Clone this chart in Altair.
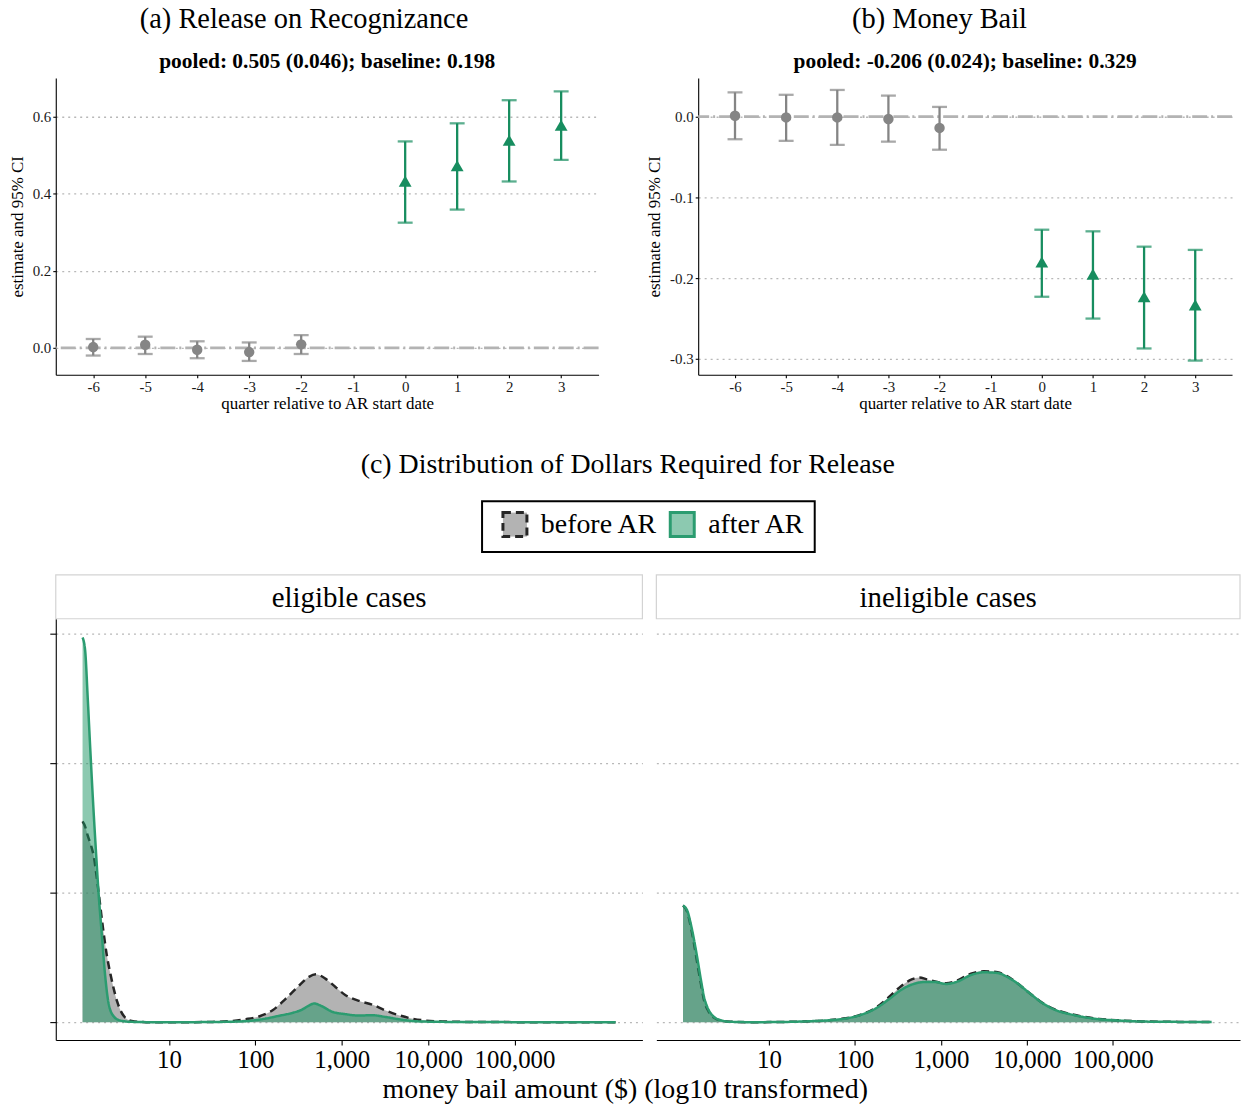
import altair as alt
import pandas as pd

FONT = "Liberation Serif"
GRAY = "#858585"
GREEN = "#178d5f"

# ---------------- event-study estimates ----------------
quarters = [-6, -5, -4, -3, -2, 0, 1, 2, 3]
phase = ["pre", "pre", "pre", "pre", "pre", "post", "post", "post", "post"]
quarter_ticks = [-6, -5, -4, -3, -2, -1, 0, 1, 2, 3]

ror_est = [0.002, 0.008, -0.005, -0.011, 0.009, 0.433, 0.473, 0.539, 0.578]
ror_lo = [-0.020, -0.016, -0.027, -0.034, -0.016, 0.325, 0.359, 0.432, 0.488]
ror_hi = [0.023, 0.029, 0.017, 0.014, 0.033, 0.536, 0.583, 0.643, 0.666]

bail_est = [0.001, -0.001, -0.001, -0.003, -0.014, -0.180, -0.195, -0.223, -0.233]
bail_lo = [-0.028, -0.030, -0.035, -0.031, -0.041, -0.223, -0.250, -0.287, -0.302]
bail_hi = [0.030, 0.027, 0.033, 0.026, 0.012, -0.140, -0.142, -0.161, -0.165]

# ---------------- densities of log10 money bail ----------------
elig_before_x = [0.0, 0.03, 0.06, 0.10, 0.13, 0.16, 0.19, 0.23, 0.28, 0.32, 0.36, 0.40, 0.44,
                 0.48, 0.52, 0.60, 0.80, 1.20, 1.50, 1.74, 1.89, 2.05, 2.20, 2.35, 2.51, 2.62,
                 2.70, 2.81, 2.93, 3.04, 3.20, 3.35, 3.50, 3.66, 3.81, 3.96, 4.20, 4.60, 5.50, 6.17]
elig_before_y = [1.55, 1.51, 1.44, 1.36, 1.28, 1.14, 0.98, 0.76, 0.52, 0.38, 0.26, 0.16, 0.09,
                 0.045, 0.02, 0.006, 0.0, 0.0, 0.002, 0.010, 0.023, 0.046, 0.092, 0.18, 0.285, 0.35,
                 0.37, 0.336, 0.27, 0.21, 0.164, 0.136, 0.092, 0.054, 0.028, 0.013, 0.005, 0.001, 0.0, 0.0]

elig_after_x = [0.0, 0.03, 0.06, 0.09, 0.12, 0.155, 0.185, 0.225, 0.26, 0.30, 0.36, 0.44, 0.55,
                0.80, 1.20, 1.60, 1.89, 2.12, 2.28, 2.43, 2.54, 2.62, 2.68, 2.77, 2.89, 3.04,
                3.20, 3.35, 3.50, 3.66, 3.81, 4.00, 4.50, 5.50, 6.17]
elig_after_y = [2.97, 2.87, 2.50, 2.10, 1.72, 1.32, 1.00, 0.66, 0.37, 0.15, 0.045, 0.012, 0.003,
                0.0, 0.0, 0.002, 0.008, 0.028, 0.050, 0.072, 0.097, 0.128, 0.144, 0.123, 0.080, 0.062,
                0.051, 0.054, 0.041, 0.023, 0.010, 0.004, 0.001, 0.0, 0.0]

inel_before_x = [0.0, 0.05, 0.09, 0.13, 0.17, 0.21, 0.245, 0.30, 0.36, 0.44, 0.55, 0.80, 1.20,
                 1.50, 1.70, 1.89, 2.08, 2.24, 2.39, 2.54, 2.66, 2.75, 2.84, 2.96, 3.06, 3.20,
                 3.35, 3.50, 3.66, 3.77, 3.89, 4.04, 4.19, 4.34, 4.50, 4.65, 4.84, 5.07, 5.34,
                 5.80, 6.15]
inel_before_y = [0.90, 0.85, 0.74, 0.60, 0.44, 0.29, 0.17, 0.08, 0.035, 0.012, 0.003, 0.0, 0.002,
                 0.008, 0.015, 0.030, 0.060, 0.110, 0.190, 0.280, 0.330, 0.345, 0.330, 0.310, 0.300,
                 0.325, 0.375, 0.393, 0.385, 0.355, 0.300, 0.220, 0.145, 0.095, 0.064, 0.043, 0.025,
                 0.014, 0.006, 0.002, 0.001]

inel_after_x = [0.0, 0.05, 0.09, 0.13, 0.17, 0.21, 0.245, 0.30, 0.36, 0.44, 0.55, 0.80, 1.20,
                1.50, 1.70, 1.89, 2.08, 2.24, 2.39, 2.54, 2.66, 2.81, 2.93, 3.06, 3.20, 3.35,
                3.50, 3.66, 3.77, 3.89, 4.04, 4.19, 4.34, 4.50, 4.65, 4.84, 5.07, 5.34, 5.80, 6.15]
inel_after_y = [0.90, 0.86, 0.76, 0.63, 0.48, 0.32, 0.195, 0.092, 0.041, 0.015, 0.003, 0.0, 0.002,
                0.008, 0.015, 0.028, 0.059, 0.105, 0.174, 0.250, 0.290, 0.310, 0.310, 0.295, 0.315,
                0.364, 0.385, 0.380, 0.350, 0.300, 0.220, 0.144, 0.092, 0.062, 0.041, 0.023, 0.013,
                0.005, 0.002, 0.001]

periods = ["before AR", "after AR"]
amount_ticks = [1, 2, 3, 4, 5]
density_grid = [0, 1, 2, 3]

# translucent fills of the two density curves, and the keys' look as seen on white
area_fill = {"before AR": "#676767", "after AR": "#199361"}
key_fill = ["#b3b3b3", "#8cc9b0"]
line_color = ["#262626", "#2b9c70"]
line_dash = [[8, 5], [1, 0]]


def event_panel(est, lo, hi, y_domain, y_ticks, width, title, subtitle):
    df = pd.DataFrame({"quarter": quarters, "est": est, "lo": lo, "hi": hi, "phase": phase})
    x = alt.X("quarter:Q",
              scale=alt.Scale(domain=[-6.72, 3.72], nice=False, zero=False),
              axis=alt.Axis(values=quarter_ticks, labelExpr="datum.value + ''",
                            title="quarter relative to AR start date", grid=False,
                            tickSize=3, labelPadding=2, titlePadding=1))
    y_axis = alt.Axis(values=y_ticks,
                      labelExpr="replace(format(datum.value, '.1f'), '\u2212', '-')",
                      title="estimate and 95% CI", grid=True, tickSize=3, labelPadding=2,
                      titlePadding=6, minExtent=0)
    y_scale = alt.Scale(domain=y_domain, nice=False, zero=False)
    color = alt.Color("phase:N", scale=alt.Scale(domain=["pre", "post"], range=[GRAY, GREEN]),
                      legend=None)
    base = alt.Chart(df)

    zero = alt.Chart(pd.DataFrame({"ref": [0.0]})).mark_rule(
        color="#b3b3b3", strokeWidth=2.6, strokeDash=[15, 4, 2, 4]
    ).encode(y=alt.Y("ref:Q", scale=y_scale, axis=y_axis))

    bars = base.mark_rule(strokeWidth=2.3).encode(
        x=x, y=alt.Y("lo:Q", scale=y_scale, axis=y_axis), y2="hi:Q", color=color)
    cap_lo = base.mark_tick(orient="horizontal", size=15, thickness=2.3).encode(
        x=x, y=alt.Y("lo:Q", scale=y_scale, axis=y_axis), color=color)
    cap_hi = base.mark_tick(orient="horizontal", size=15, thickness=2.3).encode(
        x=x, y=alt.Y("hi:Q", scale=y_scale, axis=y_axis), color=color)
    pts = base.mark_point(filled=True, opacity=1).encode(
        x=x, y=alt.Y("est:Q", scale=y_scale, axis=y_axis), color=color,
        shape=alt.Shape("phase:N",
                        scale=alt.Scale(domain=["pre", "post"], range=["circle", "triangle-up"]),
                        legend=None),
        size=alt.Size("phase:N", scale=alt.Scale(domain=["pre", "post"], range=[110, 165]),
                      legend=None))
    inner = alt.layer(zero, bars, cap_lo, cap_hi, pts).properties(
        width=width, height=298,
        title=alt.TitleParams(text=subtitle, fontSize=21.5, font=FONT, fontWeight="bold",
                              color="black", offset=5, anchor="middle"))
    # panel heading, centred over the whole panel including its axis
    return alt.vconcat(inner).properties(
        title=alt.TitleParams(text=title, fontSize=28.5, font=FONT, fontWeight="normal",
                              color="black", offset=18, anchor="middle"))


panel_a = event_panel(ror_est, ror_lo, ror_hi, [-0.0698, 0.7009], [0.0, 0.2, 0.4, 0.6], 545,
                      "(a) Release on Recognizance", "pooled: 0.505 (0.046); baseline: 0.198")
panel_b = event_panel(bail_est, bail_lo, bail_hi, [-0.3195, 0.0479], [0.0, -0.1, -0.2, -0.3], 536,
                      "(b) Money Bail", "pooled: -0.206 (0.024); baseline: 0.329")

top_row = alt.hconcat(panel_a, panel_b, spacing=44).properties(
    title=alt.TitleParams(text="(c) Distribution of Dollars Required for Release",
                          orient="bottom", fontSize=28, font=FONT, fontWeight="normal",
                          color="black", offset=39, anchor="middle", dx=7))

# long table of the density curves
rows = []
for panel, period, xs, ys in [
    ("eligible cases", "before AR", elig_before_x, elig_before_y),
    ("eligible cases", "after AR", elig_after_x, elig_after_y),
    ("ineligible cases", "before AR", inel_before_x, inel_before_y),
    ("ineligible cases", "after AR", inel_after_x, inel_after_y),
]:
    for xv, yv in zip(xs, ys):
        rows.append({"panel": panel, "period": period, "logx": xv, "dens": yv})
dens_df = pd.DataFrame(rows)

legend = alt.Legend(orient="none", legendX=428, legendY=425, direction="horizontal",
                    title=None, symbolType="square", symbolSize=580, symbolStrokeWidth=3,
                    symbolOffset=10, labelFontSize=28, labelFont=FONT, labelColor="black",
                    labelOffset=12, columnPadding=0, padding=9, strokeColor="black")
key_scale = alt.Scale(domain=periods, range=key_fill)
stroke_scale = alt.Scale(domain=periods, range=line_color)
dash_scale = alt.Scale(domain=periods, range=line_dash)


def density_panel(panel, width, left):
    d = dens_df[dens_df["panel"] == panel]
    x = alt.X("logx:Q", scale=alt.Scale(domain=[-0.31, 6.48], nice=False, zero=False),
              axis=alt.Axis(values=amount_ticks, labelExpr="format(pow(10, datum.value), ',')",
                            title=None, grid=False, tickSize=5, labelPadding=3,
                            labelFontSize=25, labelColor="black"))
    if left:
        y_axis = alt.Axis(values=density_grid, labels=False, title=None, grid=True,
                          tickSize=6, minExtent=46)
    else:
        y_axis = alt.Axis(values=density_grid, labels=False, title=None, grid=True,
                          ticks=False, domain=False, minExtent=0, maxExtent=0)
    y = alt.Y("dens:Q", scale=alt.Scale(domain=[-0.138, 3.115], nice=False, zero=False),
              axis=y_axis, stack=None)

    # facet strip: a framed header band above the panel
    strip_df = pd.DataFrame({"panel": [panel]})
    strip = alt.Chart(strip_df).mark_rect(
        fill="white", stroke="#d3d3d3", strokeWidth=1.2
    ).encode(x=alt.value(0), x2=alt.value("width"), y=alt.value(-44), y2=alt.value(0))
    strip_text = alt.Chart(strip_df).mark_text(
        fontSize=29, font=FONT, color="black", baseline="middle", dy=1
    ).encode(text="panel:N", y=alt.value(-22))

    base = alt.Chart(d)
    # carries the legend keys (fill); it has no rows of its own
    keys = base.transform_filter("false").mark_area().encode(
        x=x, y=y, fill=alt.Fill("period:N", scale=key_scale, legend=legend))
    layers = [strip, strip_text, keys]
    for p in periods:
        sub = base.transform_filter(alt.datum.period == p)
        layers.append(sub.mark_area(interpolate="monotone", fill=area_fill[p],
                                    fillOpacity=0.5).encode(x=x, y=y))
        layers.append(sub.mark_line(interpolate="monotone", strokeWidth=2.5).encode(
            x=x, y=y,
            stroke=alt.Stroke("period:N", scale=stroke_scale, legend=legend),
            strokeDash=alt.StrokeDash("period:N", scale=dash_scale, legend=legend)))
    return alt.layer(*layers).properties(width=width, height=423)


bottom_row = alt.hconcat(density_panel("eligible cases", 589, True),
                         density_panel("ineligible cases", 586, False), spacing=10).properties(
    title=alt.TitleParams(text="money bail amount ($) (log10 transformed)", orient="bottom",
                          fontSize=28, font=FONT, fontWeight="normal", color="black",
                          offset=3, anchor="middle"))

chart = alt.vconcat(top_row, bottom_row, spacing=94).properties(
    padding={"left": 7, "top": 2, "right": 0, "bottom": 0}
).configure(font=FONT).configure_view(stroke="transparent").configure_axis(
    labelFont=FONT, titleFont=FONT, labelFontSize=15, titleFontSize=17, titleFontWeight="normal",
    labelColor="#1a1a1a", titleColor="black", domainColor="black", domainWidth=1.1,
    tickColor="black", tickWidth=1.1, gridColor="#b8b8b8", gridDash=[2, 4], gridWidth=1.3
).configure_legend(strokeWidth=2)

chart.save("out.html", embed_options={"renderer": "svg", "actions": False})
